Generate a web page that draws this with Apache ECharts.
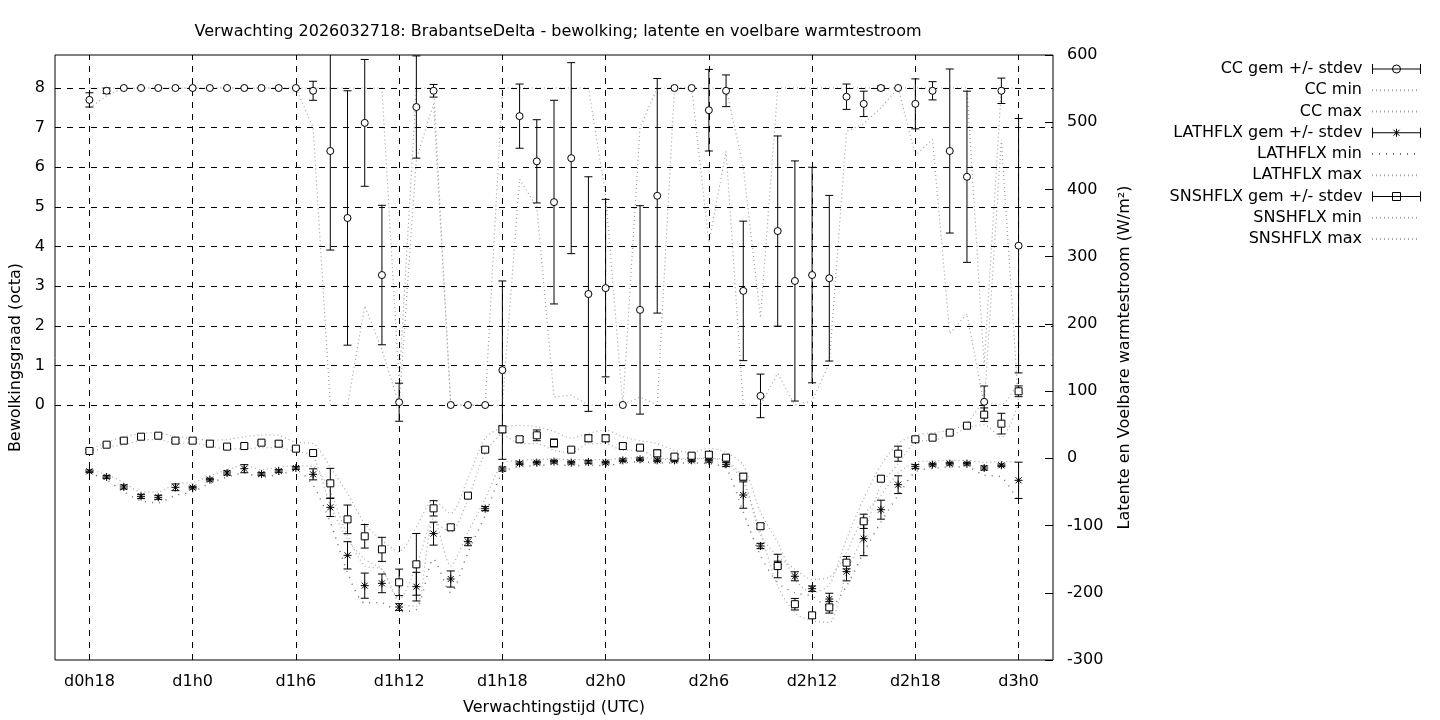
<!DOCTYPE html>
<html>
<head>
<meta charset="utf-8">
<script src="https://cdn.jsdelivr.net/npm/echarts@6/dist/echarts.min.js"></script>
<style>
  html, body { margin: 0; padding: 0; background: #fff; }
  #chart { width: 1440px; height: 720px; }
</style>
</head>
<body>
<div id="chart"></div>
<script>
// forecast hours (d0h18 .. d3h0)
const hours = [18, 19, 20, 21, 22, 23, 24, 25, 26, 27, 28,
  29, 30, 31, 32, 33, 34, 35, 36, 37, 38, 39,
  40, 41, 42, 43, 44, 45, 46, 47, 48, 49, 50,
  51, 52, 53, 54, 55, 56, 57, 58, 59, 60, 61,
  62, 63, 64, 65, 66, 67, 68, 69, 70, 71, 72]
const tickHours = [18, 24, 30, 36, 42, 48, 54, 60, 66, 72]
const ccTicks = [0, 1, 2, 3, 4, 5, 6, 7, 8]

// cloud cover (octa)
const ccMean = [7.7, 7.93, 8, 8, 8, 8, 8, 8, 8, 8, 8,
  8, 8, 7.93, 6.41, 4.72, 7.12, 3.28, 0.07, 7.52, 7.93, 0,
  0, 0, 0.88, 7.29, 6.15, 5.12, 6.23, 2.8, 2.95, 0, 2.4,
  5.28, 8, 8, 7.44, 7.93, 2.88, 0.23, 4.39, 3.13, 3.28, 3.2,
  7.78, 7.6, 8, 8, 7.6, 7.93, 6.41, 5.76, 0.08, 7.93, 4.02]
const ccSd = [0.18, 0.07, 0, 0, 0, 0, 0, 0, 0, 0, 0,
  0, 0, 0.24, 2.5, 3.21, 1.6, 1.76, 0.48, 1.29, 0.16, 0,
  0, 0, 2.25, 0.81, 1.05, 2.57, 2.41, 2.96, 2.24, 0, 2.63,
  2.96, 0, 0, 1.03, 0.4, 1.76, 0.55, 2.4, 3.03, 2.72, 2.09,
  0.32, 0.32, 0.05, 0, 0.63, 0.23, 2.07, 2.16, 0.4, 0.32, 3.21]
const ccMin = [7.5, 7.8, 8, 8, 8, 8, 8, 8, 8, 8, 8,
  8, 8, 7.0, 0, 0, 2.5, 1.4, 0, 6.2, 7.6, 0,
  0, 0, 0, 5.7, 5.0, 0.2, 0.25, 0, 0, 0, 0.2,
  0, 8, 8, 4.1, 6.4, 0, 0, 0.8, 0, 0.1, 1.05,
  6.9, 7.1, 7.5, 8, 6.3, 6.7, 1.8, 2.3, 0, 6.7, 0]
const ccMax = [8, 8, 8, 8, 8, 8, 8, 8, 8, 8, 8,
  8, 8, 8, 8, 8, 8, 8, 0.55, 8, 8, 0,
  0, 0, 8, 8, 8, 8, 8, 8, 5.3, 0, 7.0,
  8, 8, 8, 8, 8, 6.0, 2.2, 8, 8, 8, 8,
  8, 8, 8, 8, 8, 8, 8, 8, 1.0, 8, 8]

// latent heat flux (W/m2)
const lathMean = [-19.3, -27.7, -42.6, -56.5, -58, -43.1, -43.6, -31.7, -21.8, -15.4, -23.3,
  -18.8, -14.4, -23.8, -72.9, -144.3, -189.4, -186, -221.2, -190.9, -112, -179.5,
  -124, -74.9, -15.9, -7.4, -6.4, -4.9, -6.4, -5.4, -6.4, -3, -1.5,
  -3, -3, -3, -3.5, -8.9, -54.6, -130.4, -158, -175.5, -193.9, -209.3,
  -168.6, -119.5, -76.4, -39.2, -12.4, -9.4, -7.9, -7.9, -14.4, -10.4, -32.7]
const lathSd = [2, 2, 3, 3, 3, 5, 2, 2, 3, 6, 2,
  2, 2, 8.2, 13.7, 20.3, 18.7, 13.9, 5, 21.3, 17.1, 12,
  6, 3, 3, 2, 2, 2, 2, 2, 2, 2, 2,
  2, 2, 2, 2, 3, 19.6, 4, 5, 6.7, 4, 8.6,
  13.7, 25.3, 14.1, 13.2, 3, 2, 2, 2, 3, 2, 27]
const lathMin = [-22, -32, -50, -63, -66, -55, -50, -37, -28, -22, -28,
  -24, -18, -40, -95, -170, -215, -215, -228, -225, -150, -200,
  -140, -85, -22, -12, -11, -9, -11, -10, -11, -7, -5,
  -7, -7, -7, -8, -15, -80, -145, -185, -200, -205, -222,
  -190, -140, -95, -55, -20, -15, -13, -13, -25, -28, -65]
const lathMax = [-17, -24, -36, -50, -50, -38, -36, -26, -17, -10, -17,
  -13, -11, -12, -50, -115, -160, -165, -210, -160, -90, -160,
  -110, -60, -8, -3, -2, -1, -2, -2, -2, 0, 1,
  0, 0, 0, 0, -3, -30, -115, -145, -165, -180, -177,
  -140, -85, -55, -22, -6, -4, -3, -3, -6, -5, -5]

// sensible heat flux (W/m2)
const snsMean = [10.9, 20.3, 26.3, 32.2, 33.7, 26.3, 26.3, 21.8, 17.4, 18.3, 23.3,
  21.8, 14.4, 7.9, -37.2, -90.8, -116, -135.4, -184.5, -157.7, -74.4, -102.6,
  -55.5, 12.9, 43.1, 28.3, 34.2, 22.8, 12.9, 29.8, 29.8, 18.3, 15.9,
  7.4, 2.5, 3.9, 5.4, 1.0, -27.3, -101, -160.2, -217, -233.6, -221.7,
  -155.2, -93.7, -30.3, 6.9, 28.3, 30.8, 38.2, 48.6, 65, 51.6, 99.7]
const snsSd = [2, 2, 2, 2, 2, 2, 2, 2, 2, 3, 2,
  4, 2, 3, 22.3, 21.3, 17.5, 17.9, 19.7, 45.9, 11.4, 4,
  2, 2, 5, 4, 8, 6, 2, 5, 5, 4, 2,
  5, 3, 3, 4, 4, 5, 4, 17.5, 8.6, 4, 8.5,
  9.2, 10.6, 4, 11.2, 2, 2, 2, 2, 10, 15.4, 8]
const snsMin = [9, 17, 20, 27, 28, 22, 23, 18, 14, 14, 16,
  16, 10, 3, -70, -120, -150, -165, -215, -220, -95, -110,
  -60, 8, 35, 22, 22, 12, 8, 22, 22, 12, 12,
  0, -2, -1, 0, -5, -35, -110, -190, -230, -242, -244,
  -170, -112, -40, -8, 24, 27, 33, 45, 50, 31, 82]
const snsMax = [12, 24, 32, 37, 38, 32, 30, 27, 28, 32, 35,
  34, 24, 22, -13, -52, -97, -122, -139, -102, -62, -82,
  -30, 30, 46, 49, 47, 40, 30, 37, 42, 32, 26,
  22, 12, 9, 15, 9, -10, -80, -125, -180, -200, -188,
  -120, -60, -10, 22, 35, 38, 42, 52, 82, 80, 115]

const font = 'DejaVu Sans'
const fontSize = 16

function hourLabel(h) {
  return 'd' + Math.floor(h / 24) + 'h' + (h % 24)
}

function pairs(values) {
  return hours.map((h, i) => [h, values[i]])
}

function triples(mean, sd) {
  return hours.map((h, i) => [h, mean[i], sd[i]])
}

const ink = { stroke: '#000', lineWidth: 1, fill: '#fff' }

function marker(kind, c) {
  if (kind === 'circle') {
    return [{ type: 'circle', shape: { cx: c[0], cy: c[1], r: 3.5 }, style: ink }]
  }
  if (kind === 'square') {
    return [{ type: 'rect', shape: { x: c[0] - 3.5, y: c[1] - 3.5, width: 7, height: 7 }, style: ink }]
  }
  // asterisk
  const r = 4
  const d = 3
  return [
    [c[0] - r, c[1], c[0] + r, c[1]],
    [c[0], c[1] - r, c[0], c[1] + r],
    [c[0] - d, c[1] - d, c[0] + d, c[1] + d],
    [c[0] - d, c[1] + d, c[0] + d, c[1] - d],
  ].map(p => ({ type: 'line', shape: { x1: p[0], y1: p[1], x2: p[2], y2: p[3] }, style: ink }))
}

function errorBars(kind) {
  return function (params, api) {
    const x = api.value(0)
    const m = api.value(1)
    const s = api.value(2)
    const c = api.coord([x, m])
    const kids = []
    if (s > 0) {
      const t = api.coord([x, m + s])
      const b = api.coord([x, m - s])
      kids.push({ type: 'line', shape: { x1: t[0], y1: t[1], x2: b[0], y2: b[1] }, style: ink })
      kids.push({ type: 'line', shape: { x1: t[0] - 4, y1: t[1], x2: t[0] + 4, y2: t[1] }, style: ink })
      kids.push({ type: 'line', shape: { x1: b[0] - 4, y1: b[1], x2: b[0] + 4, y2: b[1] }, style: ink })
    }
    return { type: 'group', children: kids.concat(marker(kind, c)) }
  }
}

function errorSeries(name, kind, yAxisIndex, mean, sd) {
  return {
    name,
    type: 'custom',
    yAxisIndex,
    clip: true,
    z: 5,
    renderItem: errorBars(kind),
    encode: { x: 0, y: 1 },
    data: triples(mean, sd),
  }
}

function rangeLine(name, yAxisIndex, values, dash, color, width, smooth) {
  return {
    name,
    type: 'line',
    yAxisIndex,
    symbol: 'none',
    smooth,
    z: 3,
    itemStyle: { color },
    lineStyle: { color, width, type: dash },
    data: pairs(values),
  }
}

const barIcon = 'M0,0 L0,10 M0,5 L48,5 M48,0 L48,10'
const legendItems = [
  { name: 'CC gem +/- stdev', icon: 'path://' + barIcon + ' M20,5 A4,4 0 1 1 28,5 A4,4 0 1 1 20,5 Z' },
  { name: 'CC min' },
  { name: 'CC max' },
  { name: 'LATHFLX gem +/- stdev', icon: 'path://' + barIcon + ' M24,1 L24,9 M21,2 L27,8 M21,8 L27,2' },
  { name: 'LATHFLX min' },
  { name: 'LATHFLX max' },
  { name: 'SNSHFLX gem +/- stdev', icon: 'path://' + barIcon + ' M20,1 L28,1 L28,9 L20,9 Z' },
  { name: 'SNSHFLX min' },
  { name: 'SNSHFLX max' },
]

const chart = echarts.init(document.getElementById('chart'))

chart.setOption({
  animation: false,
  backgroundColor: '#fff',
  textStyle: { fontFamily: font, color: '#000' },
  title: {
    text: 'Verwachting 2026032718: BrabantseDelta - bewolking; latente en voelbare warmtestroom',
    left: 553,
    top: 19,
    textAlign: 'center',
    textStyle: { fontFamily: font, fontSize, fontWeight: 'normal', color: '#000' },
  },
  legend: legendItems.map((item, i) => ({
    right: 14,
    top: 56 + i * 21.25,
    orient: 'vertical',
    align: 'right',
    itemWidth: 48,
    itemHeight: 10,
    selectedMode: false,
    textStyle: { fontFamily: font, fontSize, color: '#000', padding: [0, 5, 0, 0] },
    data: [item.icon
      ? { name: item.name, icon: item.icon, itemStyle: { color: '#fff', borderColor: '#000', borderWidth: 1 } }
      : { name: item.name, itemStyle: { opacity: 0, borderWidth: 0 } }],
  })),
  grid: {
    left: 55,
    right: 387,
    top: 55,
    bottom: 60,
    show: true,
    borderColor: '#000',
    borderWidth: 1,
    outerBoundsMode: 'none',
  },
  xAxis: {
    type: 'value',
    min: 16,
    max: 74,
    name: 'Verwachtingstijd (UTC)',
    nameLocation: 'middle',
    nameGap: 40,
    nameTextStyle: { fontFamily: font, fontSize, color: '#000' },
    axisLine: { show: false },
    axisTick: { show: false },
    axisLabel: {
      customValues: tickHours,
      formatter: hourLabel,
      margin: 14,
      fontFamily: font,
      fontSize,
      color: '#000',
    },
    splitLine: { show: false },
  },
  yAxis: [
    {
      type: 'value',
      position: 'left',
      min: -6.435,
      max: 8.833,
      name: 'Bewolkingsgraad (octa)',
      nameLocation: 'middle',
      nameRotate: 90,
      nameGap: 29,
      nameTextStyle: { fontFamily: font, fontSize, color: '#000' },
      axisLine: { show: false },
      axisTick: { show: false },
      axisLabel: {
        customValues: ccTicks,
        margin: 10,
        fontFamily: font,
        fontSize,
        color: '#000',
      },
      splitLine: { show: false },
    },
    {
      type: 'value',
      position: 'right',
      min: -300,
      max: 600,
      interval: 100,
      name: 'Latente en Voelbare warmtestroom (W/m²)',
      nameLocation: 'middle',
      nameRotate: 90,
      nameGap: 64,
      nameTextStyle: { fontFamily: font, fontSize, color: '#000' },
      axisLine: { show: false },
      axisTick: { show: true, inside: true, length: 8, lineStyle: { color: '#000' } },
      axisLabel: { margin: 14, fontFamily: font, fontSize, color: '#000' },
      splitLine: { show: false },
    },
  ],
  series: [
    {
      name: 'raster',
      type: 'line',
      yAxisIndex: 0,
      data: [],
      silent: true,
      markLine: {
        silent: true,
        symbol: ['none', 'none'],
        label: { show: false },
        lineStyle: { color: '#000', width: 1, type: [6, 6] },
        data: tickHours.map(h => ({ xAxis: h })).concat(ccTicks.map(v => ({ yAxis: v }))),
      },
    },
    errorSeries('CC gem +/- stdev', 'circle', 0, ccMean, ccSd),
    rangeLine('CC min', 0, ccMin, [1, 3], '#a0a0a0', 1.2, false),
    rangeLine('CC max', 0, ccMax, [1, 3], '#a0a0a0', 1.2, false),
    errorSeries('LATHFLX gem +/- stdev', 'star', 1, lathMean, lathSd),
    rangeLine('LATHFLX min', 1, lathMin, [1, 6], '#707070', 1.5, 0.25),
    rangeLine('LATHFLX max', 1, lathMax, [1, 3], '#a8a8a8', 1.2, 0.25),
    errorSeries('SNSHFLX gem +/- stdev', 'square', 1, snsMean, snsSd),
    rangeLine('SNSHFLX min', 1, snsMin, [1, 3], '#a8a8a8', 1.2, 0.25),
    rangeLine('SNSHFLX max', 1, snsMax, [1, 3], '#a8a8a8', 1.2, 0.25),
  ],
})
</script>
</body>
</html>
